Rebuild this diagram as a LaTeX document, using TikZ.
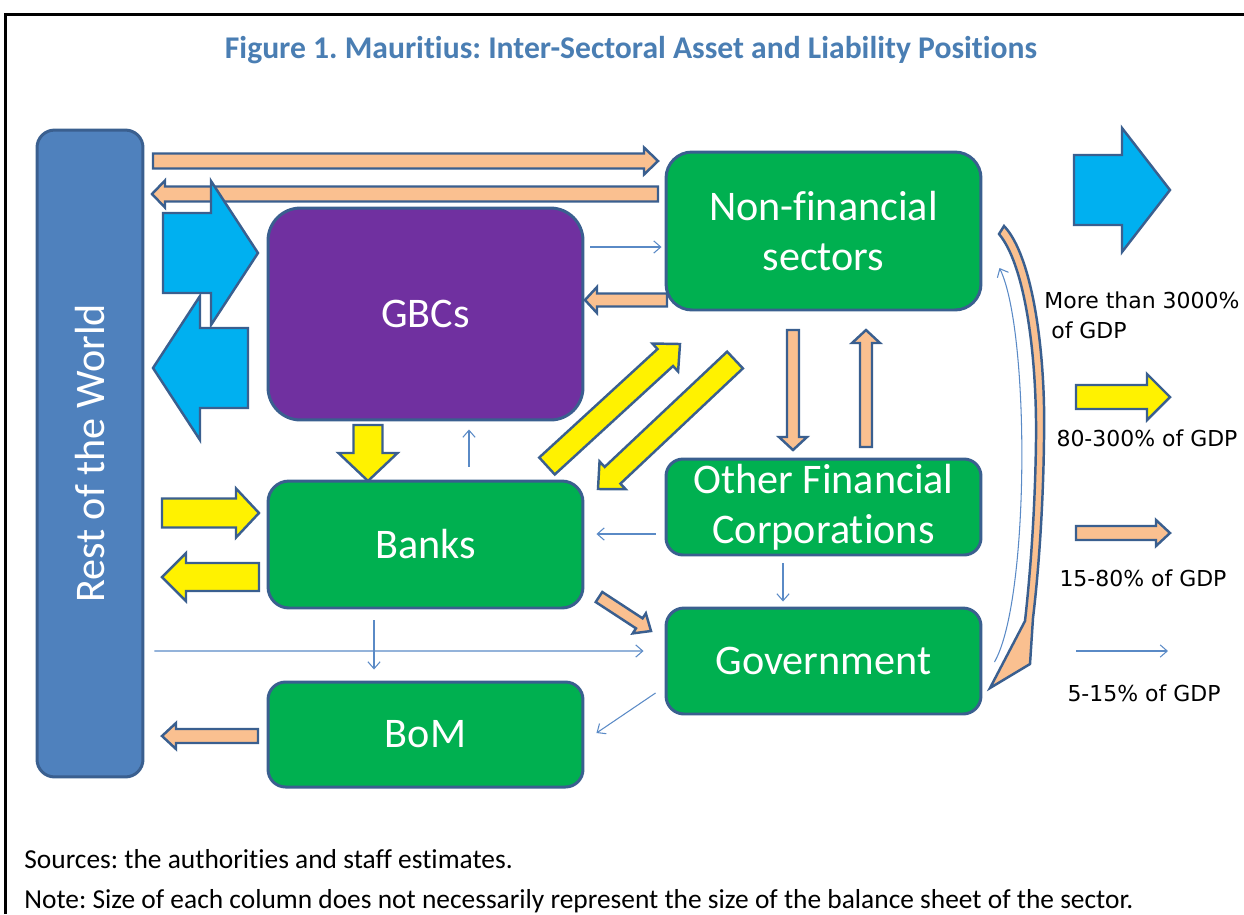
\documentclass[tikz,border=0pt]{standalone}
\usepackage{fontspec}
\setmainfont{Carlito}[Ligatures=NoCommon]
\newfontfamily\legendfont{DejaVu Sans}
\usepackage{xcolor}
\usetikzlibrary{arrows.meta,calc}
\frenchspacing

\definecolor{sectorgreen}{HTML}{00B050}
\definecolor{gbcpurple}{HTML}{7030A0}
\definecolor{worldblue}{HTML}{4F81BD}
\definecolor{edgeblue}{HTML}{3A5F8F}
\definecolor{bigcyan}{HTML}{00B0F0}
\definecolor{peach}{HTML}{FAC090}
\definecolor{thinblue}{HTML}{5A8AC6}
\definecolor{titleblue}{HTML}{4A7EB3}

% block arrow: style, tail, tip, half shaft, half head, head length (px)
\newcommand{\fatarrow}[6]{%
  \coordinate (fa-neck) at ($(#3)!#6*0.02cm!(#2)$);
  \draw[#1] ($(#2)!#4*0.02cm!90:(#3)$) -- ($(fa-neck)!#4*0.02cm!90:(#3)$)
    -- ($(fa-neck)!#5*0.02cm!90:(#3)$) -- (#3)
    -- ($(fa-neck)!#5*0.02cm!-90:(#3)$) -- ($(fa-neck)!#4*0.02cm!-90:(#3)$)
    -- ($(#2)!#4*0.02cm!-90:(#3)$) -- cycle;
}

\begin{document}
\begin{tikzpicture}[
    x=0.02cm, y=-0.02cm,
    sector/.style={draw=edgeblue, line width=1.7pt, fill=sectorgreen, text=white, align=center,
      inner sep=0pt, minimum width=6.3cm, font=\fontsize{24}{28.5}\selectfont},
    fat/.style={draw=edgeblue, line width=1.4pt, line join=miter},
    bigarrow/.style={fat, fill=bigcyan},
    yellowarrow/.style={fat, fill=yellow},
    peacharrow/.style={fat, fill=peach},
    thinarrow/.style={draw=thinblue, line width=0.6pt, -{Straight Barb[length=4pt,width=7pt]}},
    legend/.style={font=\legendfont\fontsize{12.5}{17}\selectfont, inner sep=0pt}
]
    \useasboundingbox (0,0) rectangle (1244,914);

    % Frame and title
    \draw[line width=0.07cm] (5.5,914) -- (5.5,14.5) -- (1244,14.5);
    \node[anchor=base, text=titleblue, font=\bfseries\fontsize{18}{21}\selectfont] (title) at (631,58)
        {Figure 1. Mauritius: Inter-Sectoral Asset and Liability Positions};

    % Sectors
    \node[sector, fill=worldblue, rotate=90, minimum width=12.94cm, minimum height=2.12cm, rounded corners=0.35cm] (row) at (90,453.5) {Rest of the World};
    \node[sector, fill=gbcpurple, minimum height=4.24cm, rounded corners=0.65cm] (gbcs) at (425.5,314) {GBCs};
    \node[sector, minimum height=3.16cm, rounded corners=0.52cm] (nfs) at (823.5,231) {Non-financial\\sectors};
    \node[sector, minimum height=1.92cm, rounded corners=0.34cm] (ofc) at (823.5,507) {Other Financial\\Corporations};
    \node[sector, minimum height=2.54cm, rounded corners=0.42cm] (banks) at (425.5,544.5) {Banks};
    \node[sector, minimum height=2.12cm, rounded corners=0.36cm] (gov) at (823.5,661) {Government};
    \node[sector, minimum height=2.1cm, rounded corners=0.35cm] (bom) at (425.5,734.5) {BoM};

    % Arrow ends
    \coordinate (o1s) at (153,161);  \coordinate (o1e) at (658,161);
    \coordinate (o2s) at (658,194);  \coordinate (o2e) at (152,194);
    \coordinate (o3s) at (667,300);  \coordinate (o3e) at (585,300);
    \coordinate (o4s) at (793,330);  \coordinate (o4e) at (793,450);
    \coordinate (o5s) at (866,447);  \coordinate (o5e) at (866,330);
    \coordinate (o6s) at (599,597);  \coordinate (o6e) at (651,631);
    \coordinate (o7s) at (258,736);  \coordinate (o7e) at (162,736);
    \coordinate (b1s) at (163,253);  \coordinate (b1e) at (258,253);
    \coordinate (b2s) at (248,368);  \coordinate (b2e) at (153,368);
    \coordinate (y1s) at (368,425);  \coordinate (y1e) at (368,481);
    \coordinate (y2s) at (162,513);  \coordinate (y2e) at (259,513);
    \coordinate (y3s) at (259,577);  \coordinate (y3e) at (162,577);
    \coordinate (y4s) at (547,466);  \coordinate (y4e) at (680,344);
    \coordinate (y5s) at (735,360);  \coordinate (y5e) at (598,489);
    \coordinate (c1s) at (1004,226); \coordinate (c1e) at (990,688);

    % 15-80% of GDP
    \fatarrow{peacharrow}{o1s}{o1e}{7.5}{13.5}{14}
    \fatarrow{peacharrow}{o2s}{o2e}{7.5}{13.5}{13}
    \fatarrow{peacharrow}{o3s}{o3e}{6.5}{13}{12}
    \fatarrow{peacharrow}{o4s}{o4e}{6}{14}{13}
    \fatarrow{peacharrow}{o5s}{o5e}{6}{14}{13}
    \fatarrow{peacharrow}{o6s}{o6e}{6}{12}{14}
    \fatarrow{peacharrow}{o7s}{o7e}{7}{13}{14}
    \draw[peacharrow] (c1s) .. controls (1032,255) and (1046,350) .. (1044,440)
        .. controls (1043,520) and (1037,585) .. (1033,618) -- (1030,664) -- (c1e)
        -- (1025,621) .. controls (1029,585) and (1035,520) .. (1036,440)
        .. controls (1037,355) and (1025,265) .. (999,234) -- cycle;

    % More than 3000% of GDP
    \fatarrow{bigarrow}{b2s}{b2e}{40}{72}{47}
    \fatarrow{bigarrow}{b1s}{b1e}{40}{72}{47}

    % 80-300% of GDP
    \fatarrow{yellowarrow}{y1s}{y1e}{14.5}{29.5}{28}
    \fatarrow{yellowarrow}{y2s}{y2e}{14.5}{24.5}{23}
    \fatarrow{yellowarrow}{y3s}{y3e}{14}{24}{24}
    \fatarrow{yellowarrow}{y4s}{y4e}{11.5}{19}{20}
    \fatarrow{yellowarrow}{y5s}{y5e}{11.5}{19}{20}

    % 5-15% of GDP
    \draw[thinarrow] ($(gbcs.east)+(6,-67)$) -- ($(nfs.west)+(-3,16)$);
    \draw[thinarrow] ($(banks.north)+(43.5,-13)$) -- ($(gbcs.south)+(43.5,8)$);
    \draw[thinarrow] ($(ofc.west)+(-9,27)$) -- ($(banks.east)+(12,-10.5)$);
    \draw[thinarrow] ($(ofc.south)+(-40.5,7)$) -- ($(gov.north)+(-40.5,-5)$);
    \draw[thinarrow] ($(banks.south)+(-51.5,11)$) -- ($(bom.north)+(-51.5,-11)$);
    \draw[thinarrow] ($(row.south)+(10,197.5)$) -- ($(gov.west)+(-21,-10)$);
    \draw[thinarrow] ($(gov.west)+(-9,32)$) -- ($(bom.east)+(12,-1.5)$);
    \draw[thinarrow] ($(gov.east)+(12,1)$) .. controls (1030,600) and (1030,330) .. ($(nfs.east)+(17,37)$);

    % Legend
    \coordinate (lbs) at (1074,190); \coordinate (lbe) at (1170,190);
    \coordinate (lys) at (1076,397); \coordinate (lye) at (1170,397);
    \coordinate (los) at (1076,533); \coordinate (loe) at (1170,533);
    \coordinate (lts) at (1076,651); \coordinate (lte) at (1168,651);
    \fatarrow{bigarrow}{lbs}{lbe}{35}{62}{48}
    \fatarrow{yellowarrow}{lys}{lye}{12}{23}{23}
    \fatarrow{peacharrow}{los}{loe}{7}{13}{14}
    \draw[thinarrow] (lts) -- (lte);
    \node[legend, anchor=west, align=left] (leg1) at (1044,315) {More than 3000\%\\\ of GDP};
    \node[legend] (leg2) at (1147,438) {80-300\% of GDP};
    \node[legend] (leg3) at (1143,578) {15-80\% of GDP};
    \node[legend] (leg4) at (1144,693) {5-15\% of GDP};

    % Notes
    \node[anchor=base west, inner sep=0pt, font=\fontsize{15.6}{18}\selectfont] (src) at (24,868)
        {Sources: the authorities and staff estimates.};
    \node[anchor=base west, inner sep=0pt, font=\fontsize{15.6}{18}\selectfont] (note) at (24,908)
        {Note: Size of each column does not necessarily represent the size of the balance sheet of the sector.};
\end{tikzpicture}
\end{document}
